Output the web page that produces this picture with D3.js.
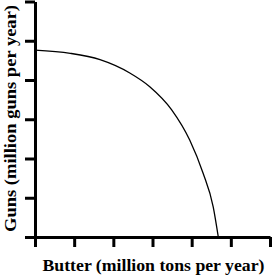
<!DOCTYPE html>
<html>
<head>
<meta charset="utf-8">
<script src="https://cdn.jsdelivr.net/npm/d3@7"></script>
<style>
  body { margin: 0; background: #fff; }
  text { font-family: "Liberation Serif", "Times New Roman", serif; font-weight: bold; }
</style>
</head>
<body>
<svg id="chart"></svg>
<script>
var width = 273,
    height = 276;

// production possibilities frontier (tick units)
var butter = [0, 0.9, 1.66, 2.42, 2.93, 3.49, 3.95, 4.29, 4.55, 4.68];
var guns   = [4.76, 4.68, 4.52, 4.18, 3.83, 3.24, 2.47, 1.63, 0.77, 0];
var ticks = [0, 1, 2, 3, 4, 5, 6];
var xLabel = 'Butter (million tons per year)',
    yLabel = 'Guns (million guns per year)';

var svg = d3.select('svg#chart')
    .attr('width', width)
    .attr('height', height);

var x = d3.scaleLinear().domain([0, 6]).range([35, 270]);
var y = d3.scaleLinear().domain([0, 6]).range([237, 1.5]);

var points = butter.map(function (b, i) { return [b, guns[i]]; });

var line = d3.line()
    .x(function (d) { return x(d[0]); })
    .y(function (d) { return y(d[1]); })
    .curve(d3.curveMonotoneX);

svg.append('path')
    .datum(points)
    .attr('d', line)
    .attr('fill', 'none')
    .attr('stroke', '#000')
    .attr('stroke-width', 1.3);

var xAxis = svg.append('g')
    .attr('transform', 'translate(0,' + y(0) + ')')
    .call(d3.axisBottom(x).tickValues(ticks).tickSize(10).tickSizeOuter(0).tickFormat(''));

var yAxis = svg.append('g')
    .attr('transform', 'translate(' + x(0) + ',0)')
    .call(d3.axisLeft(y).tickValues(ticks).tickSize(10).tickSizeOuter(0).tickFormat(''));

[xAxis, yAxis].forEach(function (g) {
    g.selectAll('path, line')
        .attr('stroke', '#000')
        .attr('stroke-width', 3);
});

svg.append('text')
    .attr('x', 153.5)
    .attr('y', 271)
    .attr('text-anchor', 'middle')
    .attr('font-size', 17)
    .attr('textLength', 222)
    .attr('lengthAdjust', 'spacingAndGlyphs')
    .text(xLabel);

svg.append('text')
    .attr('transform', 'translate(16,118.5) rotate(-90)')
    .attr('text-anchor', 'middle')
    .attr('font-size', 17)
    .attr('textLength', 227)
    .attr('lengthAdjust', 'spacingAndGlyphs')
    .text(yLabel);
</script>
</body>
</html>
